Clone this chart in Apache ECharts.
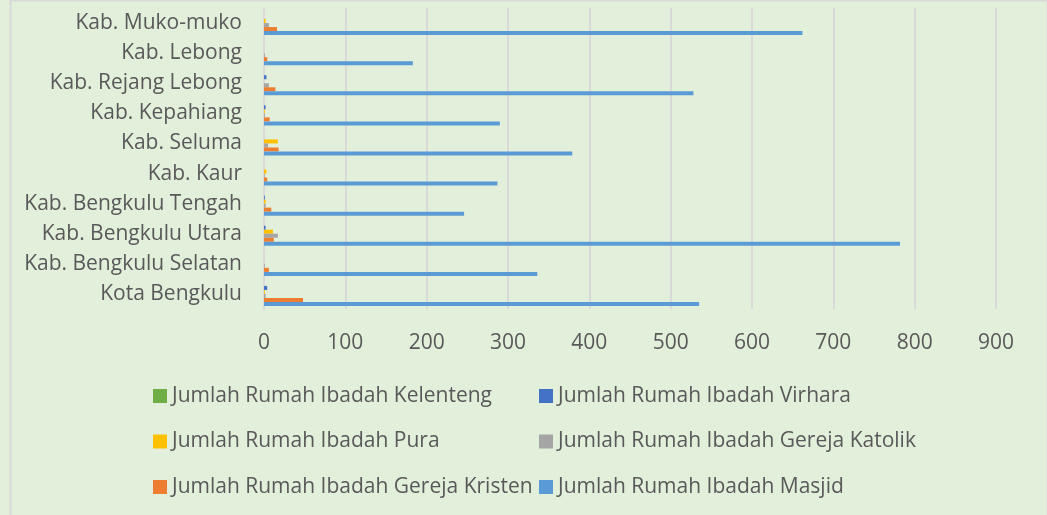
<!DOCTYPE html>
<html>
<head>
<meta charset="utf-8">
<script src="https://cdn.jsdelivr.net/npm/echarts@6/dist/echarts.min.js"></script>
<style>
  html, body { margin: 0; padding: 0; background: #E2EFDA; }
  #chart { width: 1047px; height: 515px; }
</style>
</head>
<body>
<div id="chart"></div>
<script>
// categories, bottom to top
const wilayah = [
  "Kota Bengkulu",
  "Kab. Bengkulu Selatan",
  "Kab. Bengkulu Utara",
  "Kab. Bengkulu Tengah",
  "Kab. Kaur",
  "Kab. Seluma",
  "Kab. Kepahiang",
  "Kab. Rejang Lebong",
  "Kab. Lebong",
  "Kab. Muko-muko"
];

const kelenteng = [0, 0, 0, 0, 0, 0, 0, 0, 0, 0];
const virhara = [4, 0, 2, 1, 0, 0, 2, 3, 0, 0];
const pura = [1, 0, 11, 2, 3, 17, 1, 0, 0, 2];
const katolik = [2, 1, 17, 2, 1, 5, 1, 6, 1, 6];
const kristen = [48, 6, 12, 9, 4, 18, 7, 14, 4, 16];
const masjid = [535, 336, 782, 246, 287, 379, 290, 528, 183, 662];

const xTicks = { min: 0, max: 900, interval: 100 };

const font = "'Open Sans', 'Noto Sans', sans-serif";

function bar(name, data, color) {
  return {
    name: name,
    type: "bar",
    data: data,
    barGap: "0%",
    barCategoryGap: "20%",
    itemStyle: { color: color }
  };
}

function legendCol(left, names) {
  return {
    orient: "vertical",
    left: left,
    top: 380,
    itemWidth: 14,
    itemHeight: 14,
    itemGap: 23.5,
    icon: "rect",
    textStyle: { color: "#595959", fontSize: 21, lineHeight: 22, fontFamily: font },
    data: names
  };
}

const chart = echarts.init(document.getElementById("chart"));
chart.setOption({
  backgroundColor: "#E2EFDA",
  animation: false,
  textStyle: { fontFamily: font },
  grid: {
    left: 264,
    right: 51,
    top: 8,
    bottom: 206,
    containLabel: false
  },
  legend: [
    legendCol(148, ["Jumlah Rumah Ibadah Kelenteng", "Jumlah Rumah Ibadah Pura", "Jumlah Rumah Ibadah Gereja Kristen"]),
    legendCol(534, ["Jumlah Rumah Ibadah Virhara", "Jumlah Rumah Ibadah Gereja Katolik", "Jumlah Rumah Ibadah Masjid"])
  ],
  xAxis: {
    type: "value",
    min: xTicks.min,
    max: xTicks.max,
    interval: xTicks.interval,
    axisLine: { show: false },
    axisTick: { show: false },
    axisLabel: { color: "#595959", fontSize: 21, margin: 24 },
    splitLine: { lineStyle: { color: "#D9D9D9", width: 2 } }
  },
  yAxis: {
    type: "category",
    data: wilayah,
    axisLine: { show: true, lineStyle: { color: "#D9D9D9", width: 2 } },
    axisTick: { show: false },
    axisLabel: { color: "#595959", fontSize: 21, margin: 22 }
  },
  graphic: [
    {
      type: "rect",
      left: 8,
      top: -2,
      shape: { width: 1037, height: 520 },
      style: { fill: "none", stroke: "#D9D9D9", lineWidth: 2 },
      silent: true
    }
  ],
  series: [
    bar("Jumlah Rumah Ibadah Kelenteng", kelenteng, "#70AD47"),
    bar("Jumlah Rumah Ibadah Virhara", virhara, "#4472C4"),
    bar("Jumlah Rumah Ibadah Pura", pura, "#FFC000"),
    bar("Jumlah Rumah Ibadah Gereja Katolik", katolik, "#A5A5A5"),
    bar("Jumlah Rumah Ibadah Gereja Kristen", kristen, "#ED7D31"),
    bar("Jumlah Rumah Ibadah Masjid", masjid, "#5B9BD5")
  ]
});
</script>
</body>
</html>
